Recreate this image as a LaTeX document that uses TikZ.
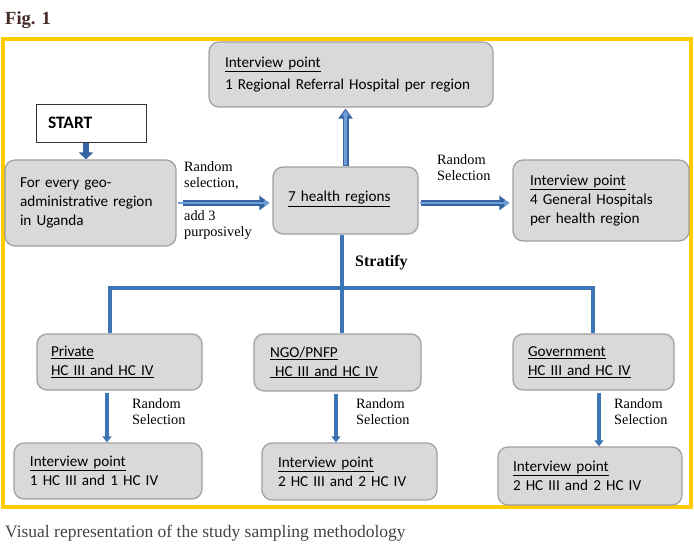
\documentclass[tikz,border=0pt]{standalone}
\usepackage{fontspec}
\setmainfont{Liberation Serif}
\newfontfamily\boxfont{Carlito}
\usetikzlibrary{arrows.meta}
\definecolor{frameyellow}{RGB}{255,204,0}
\definecolor{boxgray}{RGB}{217,217,217}
\definecolor{boxedge}{RGB}{160,160,160}
\definecolor{lineblue}{RGB}{62,117,181}
\definecolor{darkblue}{RGB}{55,100,165}
\definecolor{lightblue}{RGB}{110,160,215}
\definecolor{figbrown}{RGB}{70,42,38}
\definecolor{captiongray}{RGB}{68,68,68}
\tikzset{
  box/.style={draw=boxedge, line width=1.2pt, fill=boxgray, rounded corners=10pt,
    font=\boxfont\fontsize{15.2}{18.8}\selectfont, align=left, inner ysep=2pt},
  startbox/.style={draw=black!80, line width=1pt, fill=white,
    font=\boxfont\bfseries\fontsize{17.5}{20}\selectfont, align=left, inner sep=0pt},
  lbl/.style={font=\fontsize{14.3}{16.8}\selectfont, align=left, inner sep=0pt, anchor=north west},
  hollowarrow/.style={draw=darkblue, line width=6pt, -{Triangle[length=10pt,width=14pt]},
    postaction={draw=lightblue, line width=2.5pt, -{Triangle[length=5pt,width=7pt]}, shorten >=3pt, shorten <=1pt}},
  blockarrow/.style={draw=darkblue, line width=6pt, -{Triangle[length=7pt,width=14pt]}},
  thinarrow/.style={draw=lineblue, line width=3.5pt, -{Triangle[length=6pt,width=9pt]}},
  trunk/.style={draw=lineblue, line width=4pt},
}
\begin{document}
\begin{tikzpicture}[x=1pt,y=-1pt]
\useasboundingbox (0,0) rectangle (694,549);
% title
\node[anchor=west, inner sep=0, text=figbrown, font=\bfseries\fontsize{18.5}{20}\selectfont] (fig) at (5,20) {Fig. 1};
% frame
\draw[frameyellow, line width=4pt] (3,39) rectangle (691,507);
% boxes
\node[box, minimum width=284pt, minimum height=65pt, text width=252pt] (top) at (351,74.5)
  {\underline{Interview point}\\[4pt]1 Regional Referral Hospital per region};
\node[startbox, minimum width=110pt, minimum height=38pt, text width=86pt] (start) at (91,123) {START};
\node[box, minimum width=171pt, minimum height=86pt, text width=141pt] (left) at (90.5,203)
  {For every geo-\\administrative region\\in Uganda};
\node[box, minimum width=145pt, minimum height=67pt, text width=115pt] (hr) at (345.5,200.5)
  {\raisebox{8pt}{\underline{7 health regions}}};
\node[box, minimum width=176pt, minimum height=81pt, text width=142pt] (right) at (601,200.5)
  {\underline{Interview point}\\4 General Hospitals\\per health region};
\node[box, minimum width=165pt, minimum height=56pt, text width=137pt] (priv) at (119.5,362)
  {\underline{Private}\\\underline{HC III and HC IV}};
\node[box, minimum width=167pt, minimum height=57pt, text width=135pt] (ngo) at (337.5,362.5)
  {\underline{NGO/PNFP}\\\underline{\ HC III and HC IV}};
\node[box, minimum width=161pt, minimum height=56pt, text width=131pt] (gov) at (593.5,362)
  {\underline{Government}\\\underline{HC III and HC IV}};
\node[box, minimum width=188pt, minimum height=56pt, text width=156pt] (ip1) at (108,471)
  {\underline{Interview point}\\1 HC III and 1 HC IV};
\node[box, minimum width=175pt, minimum height=57pt, text width=143pt] (ip2) at (349.5,471.5)
  {\underline{Interview point}\\2 HC III and 2 HC IV};
\node[box, minimum width=184pt, minimum height=58pt, text width=154pt] (ip3) at (590,476)
  {\underline{Interview point}\\2 HC III and 2 HC IV};
% connectors
\draw[blockarrow] ([xshift=-5pt]start.south) -- ([xshift=-5pt]start.south |- left.north);
\draw[hollowarrow, shorten <=6pt, shorten >=3pt] (left.east) -- (left.east -| hr.west);
\draw[hollowarrow, shorten >=1pt] (hr.north) -- (hr.north |- top.south);
\draw[hollowarrow, shorten <=2pt, shorten >=3pt] ([yshift=-2.5pt]hr.east) -- ([yshift=-2.5pt]hr.east -| right.west);
\coordinate (j) at (342,288);
\coordinate (jl) at (110,288);
\coordinate (jr) at (593,288);
\draw[trunk] (hr.south -| j) -- (j);
\draw[trunk] (priv.north -| jl) -- (jl) -- (jr) -- (gov.north -| jr);
\draw[trunk] (j) -- (ngo.north -| j);
\draw[thinarrow, shorten <=2pt] ([xshift=-12.5pt]priv.south) -- ([xshift=-12.5pt]priv.south |- ip1.north);
\draw[thinarrow, shorten <=2pt] ([xshift=-1.5pt]ngo.south) -- ([xshift=-1.5pt]ngo.south |- ip2.north);
\draw[thinarrow, shorten <=2pt] ([xshift=5.5pt]gov.south) -- ([xshift=5.5pt]gov.south |- ip3.north);
% labels
\node[lbl] (l1) at (184,161) {Random\\selection,};
\node[lbl] (l2) at (184,210) {add 3\\purposively};
\node[lbl] (l3) at (437,154) {Random\\Selection};
\node[anchor=west, inner sep=0, font=\bfseries\fontsize{16}{18}\selectfont] (strat) at (355,263) {Stratify};
\node[lbl] (l4) at (132,398) {Random\\Selection};
\node[lbl] (l5) at (356,398) {Random\\Selection};
\node[lbl] (l6) at (614,398) {Random\\Selection};
% caption
\node[anchor=west, inner sep=0, text=captiongray, font=\fontsize{17.5}{19}\selectfont] (cap) at (5,533)
  {Visual representation of the study sampling methodology};
\end{tikzpicture}
\end{document}
